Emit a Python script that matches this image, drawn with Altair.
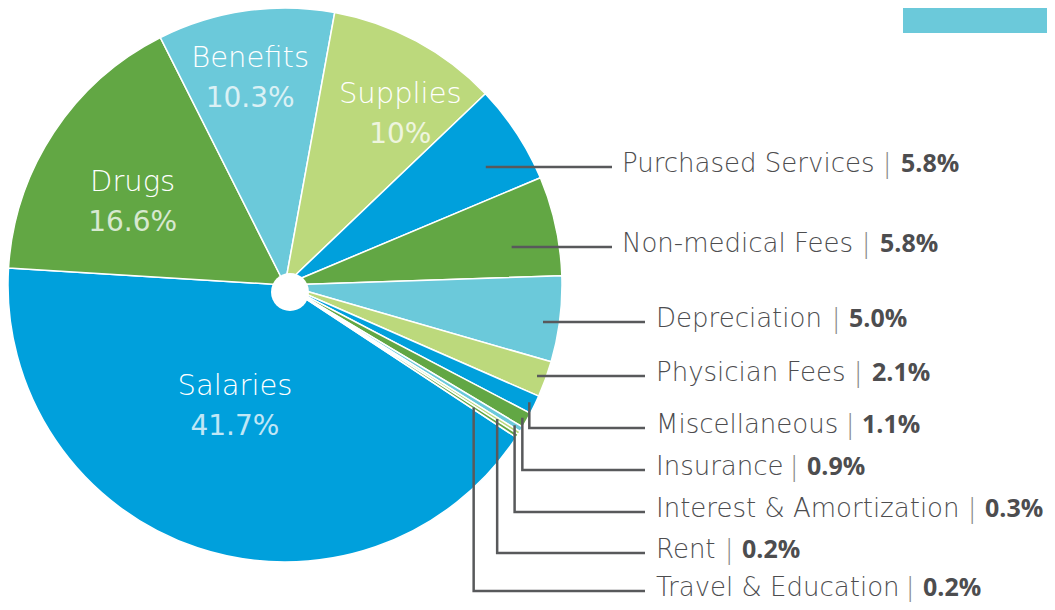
import math
import altair as alt
import pandas as pd

# ---------------- data ----------------
categories = ["Salaries", "Drugs", "Benefits", "Supplies", "Purchased Services",
              "Non-medical Fees", "Depreciation", "Physician Fees", "Miscellaneous",
              "Insurance", "Interest & Amortization", "Rent", "Travel & Education"]
values = [41.7, 16.6, 10.3, 10.0, 5.8, 5.8, 5.0, 2.1, 1.1, 0.9, 0.3, 0.2, 0.2]
value_labels = ["41.7%", "16.6%", "10.3%", "10%", "5.8%", "5.8%", "5.0%", "2.1%",
                "1.1%", "0.9%", "0.3%", "0.2%", "0.2%"]

BLUE, GREEN, CYAN, LGREEN = "#00a0dc", "#62a744", "#6bc9da", "#bcd97c"
slice_colors = [BLUE, GREEN, CYAN, LGREEN, BLUE, GREEN, CYAN, LGREEN,
                BLUE, GREEN, CYAN, LGREEN, GREEN]

# inside-labelled slices
inside_names = ["Salaries", "Drugs", "Benefits", "Supplies"]
inside_radius = [130, 174, 211, 207]
inside_shift_deg = [4.2, -4.5, -1.3, 5.5]

# outside-labelled slices (label rows)
outside_names = ["Purchased Services", "Non-medical Fees", "Depreciation", "Physician Fees",
                 "Miscellaneous", "Insurance", "Interest & Amortization", "Rent",
                 "Travel & Education"]
out_baseline = [172, 252, 327, 381, 433, 475, 517, 558, 596]
out_text_x = [622, 622, 656, 656, 656, 656, 656, 656, 656]
out_line_end = [612, 612, 645, 645, 645, 645, 645, 645, 645]
out_pipe_x = [887, 866, 836, 858, 850, 794, 972, 729, 910]
out_pct_x = [901, 880, 849, 872, 862, 807, 985, 742, 923]
out_anchor_r = [240, 232, 260, 268, 271, 272, 269, 251, 225]
out_elbow = [False, False, False, False, True, True, True, True, True]

# ---------------- geometry ----------------
OFF = 8  # page margin
CX, CY, R = 285 - OFF, 285 - OFF, 277
START_DEG = 123.38  # where Salaries begins (clockwise from 12 o'clock)
total = sum(values)

df = pd.DataFrame({"name": categories, "value": values, "label": value_labels,
                   "idx": list(range(len(categories)))})
cum = df["value"].cumsum() - df["value"]
df["mid_deg"] = START_DEG + (cum + df["value"] / 2) * 360.0 / total
mid = dict(zip(df["name"], df["mid_deg"]))
lab = dict(zip(df["name"], df["label"]))

start_rad = math.radians(START_DEG)
pie = alt.Chart(df).mark_arc(radius=R, stroke="white", strokeWidth=1.5).encode(
    theta=alt.Theta("value:Q", stack=True,
                    scale=alt.Scale(domain=[0, total], range=[start_rad, start_rad + 2 * math.pi])),
    order=alt.Order("idx:Q"),
    color=alt.Color("name:N", scale=alt.Scale(domain=categories, range=slice_colors), legend=None),
    x=alt.value(CX), y=alt.value(CY),
)

# inside labels
rows = []
for n, r, s in zip(inside_names, inside_radius, inside_shift_deg):
    a = math.radians(mid[n] + s)
    x = CX + r * math.sin(a)
    y = CY - r * math.cos(a)
    rows.append({"name": n, "pct": lab[n], "x": x, "y1": y - 10, "y2": y + 30})
inside_df = pd.DataFrame(rows)

NAME_FONT = "DejaVu Sans"
PCT_FONT = "Open Sans"
in_name = alt.Chart(inside_df).mark_text(
    font=NAME_FONT, fontSize=29, fontWeight=300, color="white", align="center", baseline="alphabetic"
).encode(x=alt.X("x:Q", scale=None), y=alt.Y("y1:Q", scale=None), text="name:N")
in_pct = alt.Chart(inside_df).mark_text(
    font=NAME_FONT, fontSize=28, fontWeight="normal", color="white", opacity=0.75, align="center",
    baseline="alphabetic"
).encode(x=alt.X("x:Q", scale=None), y=alt.Y("y2:Q", scale=None), text="pct:N")

# outside labels and leader lines
lab_rows, line_rows = [], []
for i, n in enumerate(outside_names):
    a = math.radians(mid[n])
    ax = CX + out_anchor_r[i] * math.sin(a)
    ay = CY - out_anchor_r[i] * math.cos(a)
    ly = out_baseline[i] - 5 - OFF
    pts = []
    if out_elbow[i]:
        pts.append((ax, ay))
    pts.append((ax, ly))
    pts.append((out_line_end[i] - OFF, ly))
    for k, (px, py) in enumerate(pts):
        line_rows.append({"name": n, "pt": k, "x": px, "y": py})
    lab_rows.append({"name": n, "pct": lab[n], "tx": out_text_x[i] - OFF,
                     "px": out_pipe_x[i] - OFF, "cx": out_pct_x[i] - OFF,
                     "by": out_baseline[i] - OFF, "pipe": "|"})
lab_df = pd.DataFrame(lab_rows)
line_df = pd.DataFrame(line_rows)

leaders = alt.Chart(line_df).mark_line(color="#58595b", strokeWidth=2.5).encode(
    x=alt.X("x:Q", scale=None), y=alt.Y("y:Q", scale=None),
    detail="name:N", order="pt:Q")

out_name = alt.Chart(lab_df).mark_text(
    font=NAME_FONT, fontSize=26, fontWeight=300, color="#4d4d4f", align="left", baseline="alphabetic"
).encode(x=alt.X("tx:Q", scale=None), y=alt.Y("by:Q", scale=None), text="name:N")
out_pipe = alt.Chart(lab_df).mark_text(
    font=NAME_FONT, fontSize=26, fontWeight=300, color="#8c8c8e", align="center", baseline="alphabetic"
).encode(x=alt.X("px:Q", scale=None), y=alt.Y("by:Q", scale=None), text="pipe:N")
out_pct = alt.Chart(lab_df).mark_text(
    font=PCT_FONT, fontSize=25, fontWeight=700, color="#4d4d4f", align="left", baseline="alphabetic"
).encode(x=alt.X("cx:Q", scale=None), y=alt.Y("by:Q", scale=None), text="pct:N")

one = pd.DataFrame({"k": [0]})
hole = alt.Chart(one).mark_point(shape="circle", filled=True, color="white", opacity=1,
                                 size=38 * 38).encode(x=alt.value(290 - OFF), y=alt.value(292 - OFF))
corner = alt.Chart(one).mark_rect(color=CYAN).encode(
    x=alt.value(903 - OFF), x2=alt.value(1039), y=alt.value(0), y2=alt.value(33 - OFF))

chart = alt.layer(corner, pie, hole, leaders, in_name, in_pct, out_name, out_pipe, out_pct).properties(
    width=1039, height=594, padding=0, autosize=alt.AutoSizeParams(type="none")
).configure_view(stroke=None)

chart.save("out.html", embed_options={"renderer": "svg", "actions": False})
